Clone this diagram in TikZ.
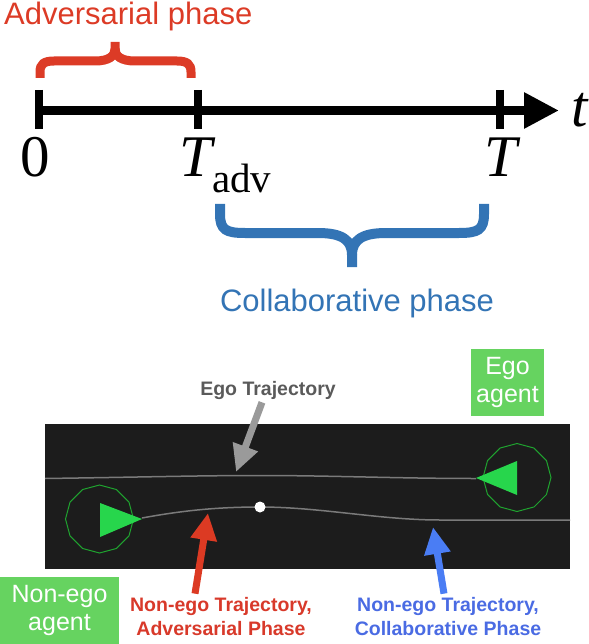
\documentclass[tikz,border=0pt]{standalone}
\usepackage{fontspec}
\setmainfont{Liberation Sans}
\newfontfamily\axisfont{Liberation Serif}
\usetikzlibrary{arrows.meta,shapes.geometric}
\definecolor{AdvRed}{HTML}{DC3B26}
\definecolor{ColBlue}{HTML}{3374B5}
\definecolor{SceneDark}{HTML}{1C1C1C}
\definecolor{TrajGray}{HTML}{7A7A7A}
\definecolor{AgentGreen}{HTML}{27D64C}
\definecolor{RingGreen}{HTML}{1FA32F}
\definecolor{BoxGreen}{HTML}{66D360}
\definecolor{EgoGray}{HTML}{5A5A5A}
\definecolor{ArrowGray}{HTML}{9A9A9A}
\definecolor{LblRed}{HTML}{D8392A}
\definecolor{LblBlue}{HTML}{4A6BE3}
\definecolor{ArrowRed}{HTML}{DC3A23}
\definecolor{ArrowBlue}{HTML}{4A7DF4}
\tikzset{
  axis/.style={line width=9pt, -{Triangle[length=35pt,width=34pt]}},
  tick/.style={line width=8.5pt},
  timelbl/.style={font=\axisfont\fontsize{59}{60}\selectfont, inner sep=0pt},
  phase/.style={font=\fontsize{31}{36}\selectfont, inner sep=0pt},
  advbrace/.style={draw=AdvRed, line width=9pt},
  colbrace/.style={draw=ColBlue, line width=10pt},
  traj/.style={draw=TrajGray, line width=1.5pt},
  agentring/.style={regular polygon, regular polygon sides=12, shape border rotate=15,
                    minimum size=68pt, draw=RingGreen, line width=1pt, inner sep=0pt},
  agentbox/.style={fill=BoxGreen, text=white, font=\fontsize{25}{28}\selectfont,
                   align=center, minimum width=73pt, minimum height=67pt, inner sep=0pt},
  trajlbl/.style={font=\bfseries\fontsize{19.5}{24}\selectfont, align=center, inner sep=0pt},
  pointer/.style={-{Triangle[length=27pt,width=25pt]}, line width=7pt},
}
\begin{document}
\begin{tikzpicture}[x=1pt,y=-1pt]
\useasboundingbox (0,0) rectangle (588,644);

% time axis
\draw[axis] (36,110.5) -- (559,110.5);
\foreach \x in {39,198,500}
  \draw[tick] (\x,90) -- (\x,129);
\node[timelbl, anchor=base] (zero) at (35,177) {0};
\node[timelbl, anchor=base west] (tadv) at (179,177)
  {\itshape T\upshape\raisebox{-16pt}{\fontsize{41}{41}\selectfont adv}};
\node[timelbl, anchor=base] (tend) at (501,177) {\itshape T};
\node[timelbl, anchor=base west] (tvar) at (571,127) {\itshape t};

% adversarial phase brace
\draw[advbrace] (40,78) -- (40,72) .. controls (40,64) and (44,61) .. (54,61) -- (95,61)
  .. controls (109,61) and (115,56) .. (115,49) -- (115,42);
\draw[advbrace] (191,78) -- (191,72) .. controls (191,64) and (187,61) .. (177,61) -- (135,61)
  .. controls (121,61) and (115,56) .. (115,49);
\node[phase, text=AdvRed, anchor=base west] (advtxt) at (4,24.5) {Adversarial phase};

% collaborative phase brace
\draw[colbrace] (220,204) -- (220,214) .. controls (220,230) and (226,233) .. (245,233) -- (318,233)
  .. controls (342,233) and (352,240) .. (352,255) -- (352,267);
\draw[colbrace] (484,204) -- (484,214) .. controls (484,230) and (478,233) .. (459,233) -- (386,233)
  .. controls (362,233) and (352,240) .. (352,255);
\node[phase, text=ColBlue, anchor=base] (coltxt) at (357,311) {Collaborative phase};

% scene
\fill[SceneDark] (45,424) rectangle (570,569);
\draw[traj] (45,478.5) .. controls (150,477) and (200,475.5) .. (260,475.5)
  .. controls (330,475.5) and (400,478.5) .. (476,478.5);
\draw[traj] (142,518) .. controls (180,511) and (215,507) .. (260,507)
  .. controls (320,507) and (380,520) .. (440,520) -- (570,520);
\fill[white] (260,507) circle (5.5);

\node[agentring] (nonegoring) at (99.5,519) {};
\node[agentring] (egoring) at (517,477.5) {};
\fill[AgentGreen] (100,503) -- (142,519) -- (100,537) -- cycle;
\fill[AgentGreen] (517,461) -- (476,478) -- (517,495) -- cycle;

% labels
\node[agentbox] (egoagent) at (507.5,382.5) {Ego\\agent};
\node[agentbox, minimum width=119pt] (nonegoagent) at (59.5,610.5) {Non-ego\\agent};
\node[trajlbl, text=EgoGray, anchor=base] (egotxt) at (268,395) {Ego Trajectory};
\node[trajlbl, text=LblRed] (advtraj) at (221,617) {Non-ego Trajectory,\\Adversarial Phase};
\node[trajlbl, text=LblBlue] (coltraj) at (448,617) {Non-ego Trajectory,\\Collaborative Phase};

% pointers
\coordinate (egohit) at (236,472);
\coordinate (advhit) at (208,513);
\coordinate (colhit) at (433,527);
\draw[pointer, ArrowGray] ([xshift=-6pt,yshift=-3pt]egotxt.south) -- (egohit);
\draw[pointer, ArrowRed] ([xshift=-26pt,yshift=4pt]advtraj.north) -- (advhit);
\draw[pointer, ArrowBlue] ([xshift=-4pt,yshift=4pt]coltraj.north) -- (colhit);

\end{tikzpicture}
\end{document}
